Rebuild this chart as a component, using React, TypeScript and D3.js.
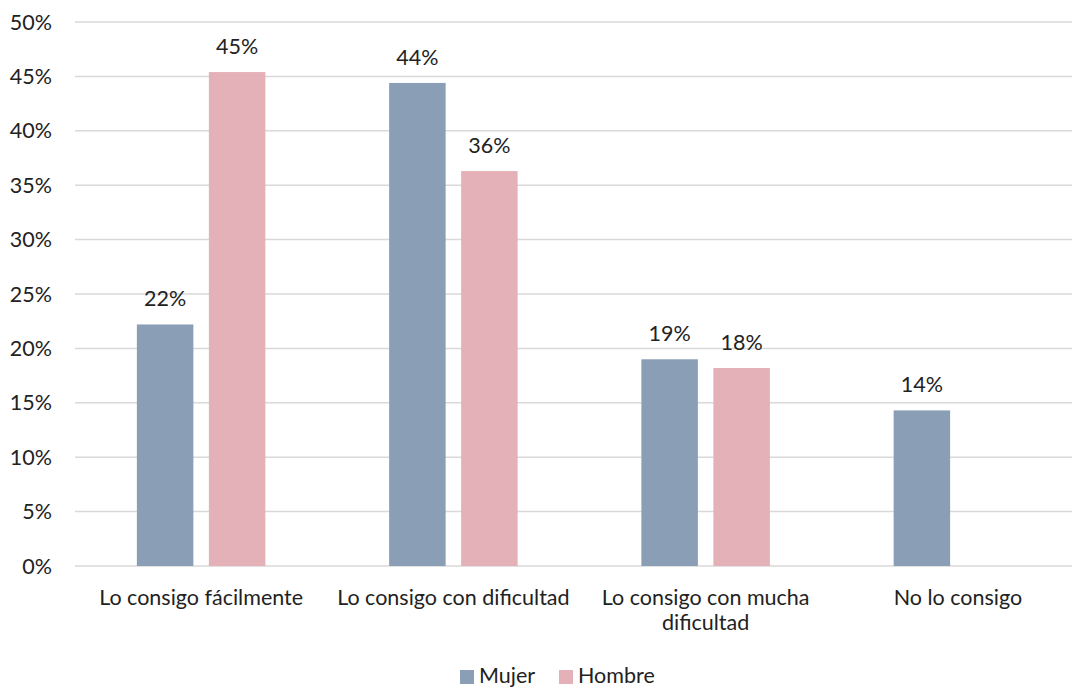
import { useEffect, useRef } from 'react';
import * as d3 from 'd3';

const categories = [
  ['Lo consigo fácilmente'],
  ['Lo consigo con dificultad'],
  ['Lo consigo con mucha', 'dificultad'],
  ['No lo consigo']
];
const seriesNames = ['Mujer', 'Hombre'];
const seriesColors = ['#8A9FB5', '#E4B1B9'];
const mujer = [22.2, 44.4, 19.0, 14.3];
const hombre = [45.4, 36.3, 18.2, null];
const yTicks = [0, 5, 10, 15, 20, 25, 30, 35, 40, 45, 50];

const FONT = 'Lato, "Open Sans", sans-serif';
const FS = '21.5px';

export default function App() {
  const svgRef = useRef<SVGSVGElement>(null);

  useEffect(() => {
    if (!svgRef.current) return;
    const svg = d3.select(svgRef.current);
    svg.selectAll('*').remove();

    const width = 1072;
    const height = 688;
    const left = 75;
    const right = 1084; // plot runs past the frame, as in the original
    const top = 22;
    const bottom = 566;

    const x = d3
      .scaleBand<number>()
      .domain(d3.range(categories.length))
      .range([left, right]);
    const y = d3.scaleLinear().domain([0, 50]).range([bottom, top]);

    const barW = 56.5;
    const gap = 15.5;

    // gridlines
    svg
      .append('g')
      .selectAll('line')
      .data(yTicks)
      .enter()
      .append('line')
      .attr('x1', left)
      .attr('x2', right)
      .attr('y1', (d) => y(d))
      .attr('y2', (d) => y(d))
      .attr('stroke', '#D9D9D9')
      .attr('stroke-width', 1.5);

    // y labels
    svg
      .append('g')
      .selectAll('text')
      .data(yTicks)
      .enter()
      .append('text')
      .attr('x', 52)
      .attr('y', (d) => y(d))
      .attr('dy', '0.35em')
      .attr('text-anchor', 'end')
      .style('font-family', FONT)
      .style('font-size', FS)
      .style('fill', '#222')
      .text((d) => `${d}%`);

    const series = [mujer, hombre];
    series.forEach((vals, si) => {
      const g = svg.append('g');
      const items = vals
        .map((v, i) => ({ v, i }))
        .filter((d) => d.v !== null) as { v: number; i: number }[];
      const bx = (i: number) =>
        x(i)! + x.bandwidth() / 2 + (si === 0 ? -gap / 2 - barW : gap / 2);

      g.selectAll('rect')
        .data(items)
        .enter()
        .append('rect')
        .attr('x', (d) => bx(d.i))
        .attr('y', (d) => y(d.v))
        .attr('width', barW)
        .attr('height', (d) => y(0) - y(d.v))
        .attr('fill', seriesColors[si]);

      g.selectAll('text')
        .data(items)
        .enter()
        .append('text')
        .attr('x', (d) => bx(d.i) + barW / 2)
        .attr('y', (d) => y(d.v) - 18)
        .attr('text-anchor', 'middle')
        .style('font-family', FONT)
        .style('font-size', FS)
        .style('fill', '#222')
        .text((d) => `${Math.round(d.v)}%`);
    });

    // x labels
    const xl = svg
      .append('g')
      .selectAll('text')
      .data(categories)
      .enter()
      .append('text')
      .attr('text-anchor', 'middle')
      .style('font-family', FONT)
      .style('font-size', FS)
      .style('fill', '#222');
    xl.each(function (lines, i) {
      const t = d3.select(this);
      lines.forEach((ln, li) => {
        t.append('tspan')
          .attr('x', x(i)! + x.bandwidth() / 2)
          .attr('y', 605 + li * 25)
          .text(ln);
      });
    });

    // legend
    const legend = svg.append('g');
    const legendX = [460, 559];
    seriesNames.forEach((name, i) => {
      legend
        .append('rect')
        .attr('x', legendX[i])
        .attr('y', 670)
        .attr('width', 14)
        .attr('height', 14)
        .attr('fill', seriesColors[i]);
      legend
        .append('text')
        .attr('x', legendX[i] + 19)
        .attr('y', 683)
        .style('font-family', FONT)
        .style('font-size', FS)
        .style('fill', '#222')
        .text(name);
    });

    svg.attr('width', width).attr('height', height);
  }, []);

  return (
    <svg
      ref={svgRef}
      style={{ position: 'absolute', left: 0, top: 0, display: 'block', background: '#fff' }}
    ></svg>
  );
}
